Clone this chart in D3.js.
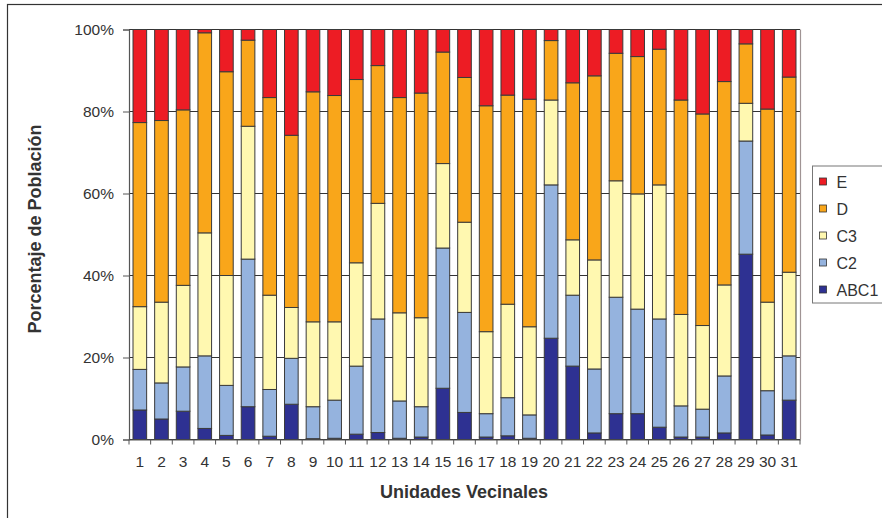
<!DOCTYPE html>
<meta charset="utf-8">
<style>
  body { margin: 0; background: #fff; }
  svg { display: block; font-family: "Liberation Sans", Arial, sans-serif; }
  .tick text { fill: #333; }
  .title { font-weight: bold; fill: #333; font-size: 18px; }
</style>
<svg width="882" height="518"></svg>
<script src="https://cdn.jsdelivr.net/npm/d3@7"></script>
<script>
  // data (percent of population per class)
  var units = d3.range(1, 32).map(String);
  var abc1 = [7.2, 5.0, 6.9, 2.7, 1.0, 8.0, 0.8, 8.6, 0.2, 0.3, 1.3, 1.7, 0.3, 0.6, 12.5, 6.6, 0.6, 0.9, 0.3, 24.7, 17.9, 1.6, 6.3, 6.3, 3.0, 0.6, 0.6, 1.6, 45.2, 1.1, 9.6];
  var c2 = [9.9, 8.8, 10.8, 17.7, 12.2, 36.0, 11.4, 11.2, 7.8, 9.3, 16.6, 27.7, 9.1, 7.4, 34.2, 24.4, 5.7, 9.3, 5.7, 37.4, 17.3, 15.6, 28.4, 25.5, 26.4, 7.6, 6.8, 13.9, 27.6, 10.8, 10.8];
  var c3 = [15.3, 19.7, 19.9, 30.0, 26.8, 32.4, 23.0, 12.4, 20.7, 19.1, 25.2, 28.2, 21.5, 21.7, 20.6, 22.0, 20.0, 22.8, 21.5, 20.7, 13.5, 26.6, 28.4, 28.1, 32.7, 22.3, 20.4, 22.2, 9.2, 21.6, 20.4];
  var dd = [44.9, 44.3, 42.8, 48.8, 49.7, 21.0, 48.2, 42.0, 56.1, 55.2, 44.7, 33.6, 52.5, 54.8, 27.2, 35.3, 55.1, 51.0, 55.5, 14.5, 38.3, 44.9, 31.1, 33.5, 33.1, 52.3, 51.6, 49.6, 14.5, 47.1, 47.6];
  var ee = [22.7, 22.2, 19.6, 0.8, 10.3, 2.6, 16.6, 25.8, 15.2, 16.1, 12.2, 8.8, 16.6, 15.5, 5.5, 11.7, 18.6, 16.0, 17.0, 2.7, 13.0, 11.3, 5.8, 6.6, 4.8, 17.2, 20.6, 12.7, 3.5, 19.4, 11.6];
  var keys = ["ABC1", "C2", "C3", "D", "E"];
  var colors = ["#2e3192", "#95b3de", "#fff8b0", "#f9a61a", "#ed1c24"];
  var yTicks = [0, 0.2, 0.4, 0.6, 0.8, 1];

  var rows = units.map(function(u, i) {
    var tot = abc1[i] + c2[i] + c3[i] + dd[i] + ee[i];
    return { unit: u, ABC1: abc1[i] / tot, C2: c2[i] / tot, C3: c3[i] / tot, D: dd[i] / tot, E: ee[i] / tot };
  });

  var svg = d3.select("svg");
  var plotLeft = 129, plotRight = 800, plotTop = 29.5, plotBottom = 439.5;

  // outer chart frame (clipped on the right and bottom in the original)
  svg.append("rect")
      .attr("x", 7.5).attr("y", 4.5)
      .attr("width", 900).attr("height", 600)
      .attr("fill", "#fff").attr("stroke", "#333").attr("stroke-width", 1.2);

  var x = d3.scaleBand().domain(units).range([plotLeft, plotRight]).paddingInner(0.37).paddingOuter(0.185);
  var y = d3.scaleLinear().domain([0, 1]).range([plotBottom, plotTop]);
  var color = d3.scaleOrdinal().domain(keys).range(colors);

  // gridlines
  svg.append("g").selectAll("line")
    .data(yTicks)
    .enter().append("line")
      .attr("x1", plotLeft).attr("x2", plotRight)
      .attr("y1", function(d) { return y(d); })
      .attr("y2", function(d) { return y(d); })
      .attr("stroke", "#333").attr("stroke-width", 1);

  // right border of plot area
  svg.append("line")
      .attr("x1", plotRight + 0.5).attr("x2", plotRight + 0.5)
      .attr("y1", plotTop).attr("y2", plotBottom)
      .attr("stroke", "#a09494").attr("stroke-width", 1.2);

  // stacked bars
  var series = d3.stack().keys(keys)(rows);
  svg.append("g").selectAll("g")
    .data(series)
    .enter().append("g")
      .attr("fill", function(d) { return color(d.key); })
    .selectAll("rect")
    .data(function(d) { return d; })
    .enter().append("rect")
      .attr("x", function(d) { return x(d.data.unit); })
      .attr("y", function(d) { return y(d[1]); })
      .attr("width", x.bandwidth())
      .attr("height", function(d) { return y(d[0]) - y(d[1]); })
      .attr("stroke", "#3a3a3a").attr("stroke-width", 1);

  // y axis
  svg.append("g")
      .attr("transform", "translate(" + plotLeft + ",0)")
      .call(d3.axisLeft(y).tickValues(yTicks).tickFormat(d3.format(".0%")).tickSize(6).tickPadding(9))
      .call(function(g) {
        g.select(".domain").attr("stroke", "#555").attr("stroke-width", 1.2);
        g.selectAll(".tick line").attr("stroke", "#555");
        g.selectAll(".tick text").attr("font-size", 15.5);
      });

  // x axis with ticks between categories
  var gx = svg.append("g")
      .attr("transform", "translate(0," + plotBottom + ")")
      .call(d3.axisBottom(x).tickSize(0).tickPadding(16))
      .call(function(g) {
        g.select(".domain").attr("stroke", "#555").attr("stroke-width", 1.2);
        g.selectAll(".tick text").attr("font-size", 15.5);
      });
  gx.selectAll(".sep")
    .data(units.concat(["end"]))
    .enter().append("line")
      .attr("x1", function(d, i) { return plotLeft + i * x.step(); })
      .attr("x2", function(d, i) { return plotLeft + i * x.step(); })
      .attr("y1", 0).attr("y2", 5)
      .attr("stroke", "#555");

  // axis titles
  svg.append("text")
      .attr("class", "title")
      .attr("x", 464).attr("y", 498)
      .attr("text-anchor", "middle")
      .text("Unidades Vecinales");

  svg.append("text")
      .attr("class", "title")
      .attr("transform", "translate(41,229) rotate(-90)")
      .attr("text-anchor", "middle")
      .text("Porcentaje de Población");

  // legend
  var lg = svg.append("g").attr("transform", "translate(812.5,166)");
  lg.append("rect")
      .attr("width", 100).attr("height", 137)
      .attr("fill", "#fff").attr("stroke", "#777").attr("stroke-width", 1);
  var items = lg.selectAll(".item")
    .data(keys.slice().reverse())
    .enter().append("g")
      .attr("class", "item")
      .attr("transform", function(d, i) { return "translate(0," + (16 + i * 27) + ")"; });
  items.append("rect")
      .attr("x", 7).attr("y", -4)
      .attr("width", 7).attr("height", 7)
      .attr("fill", function(d) { return color(d); })
      .attr("stroke", "#333").attr("stroke-width", 0.8);
  items.append("text")
      .attr("x", 24).attr("y", 5.5)
      .attr("font-size", 16)
      .attr("fill", "#333")
      .text(function(d) { return d; });
</script>
